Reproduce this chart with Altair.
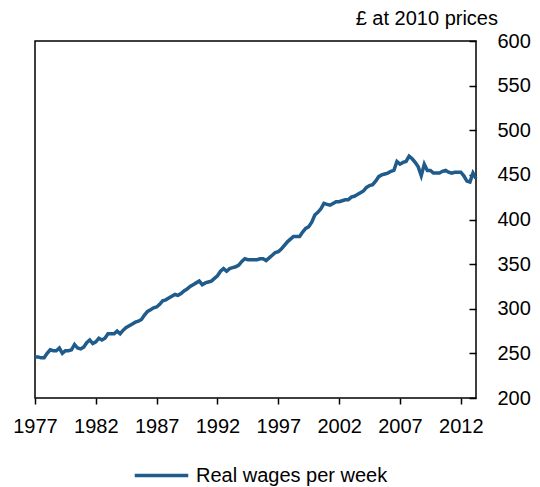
import altair as alt
import pandas as pd

start_year = 1977
# Quarterly real wages per week (£ at 2010 prices), 1977 Q1 onwards
wages = [
    246, 246, 245, 245, 250, 254, 253, 253, 256, 250, 253, 253,
    254, 260, 256, 255, 257, 262, 265, 261, 263, 267, 265, 267,
    272, 272, 272, 275, 272, 276, 279, 281, 283, 285, 286, 288,
    293, 297, 299, 301, 302, 305, 309, 310, 312, 314, 316, 315,
    317, 320, 322, 325, 327, 329, 331, 327, 329, 330, 331, 334,
    337, 342, 345, 342, 345, 346, 347, 349, 353, 356, 355, 355,
    355, 355, 356, 356, 354, 357, 360, 363, 364, 367, 371, 375,
    378, 381, 381, 381, 386, 390, 392, 397, 405, 408, 412, 418,
    417, 416, 418, 420, 420, 421, 422, 422, 425, 426, 428, 430,
    432, 436, 438, 439, 443, 448, 450, 451, 452, 454, 455, 465,
    462, 464, 465, 471, 468, 464, 459, 449, 462, 455, 455, 452,
    452, 452, 454, 455, 453, 452, 453, 453, 453, 449, 443, 442,
    452, 446,
]
series_name = "Real wages per week"
x_ticks = [1977, 1982, 1987, 1992, 1997, 2002, 2007, 2012]
y_ticks = [200, 250, 300, 350, 400, 450, 500, 550, 600]

years = [start_year + i / 4 for i in range(len(wages))]
df = pd.DataFrame({"year": years, "wage": wages, "series": [series_name] * len(wages)})

FONT = "Liberation Sans"
FS = 20
W, H = 441, 357
x_dom = [1977, start_year + (len(wages) - 1) / 4]

x_enc = alt.X(
    "year:Q",
    scale=alt.Scale(domain=x_dom, nice=False, zero=False),
    axis=alt.Axis(values=x_ticks, format="d", title=None, grid=False, domain=False,
                  tickColor="black", tickSize=6, tickWidth=1.5, labelFont=FONT,
                  labelFontSize=FS, labelColor="black", labelPadding=12, labelFlush=False),
)
y_scale = alt.Scale(domain=[200, 600], nice=False, zero=False)

line = alt.Chart(df).mark_line(strokeWidth=3.5).encode(
    x=x_enc,
    y=alt.Y("wage:Q", scale=y_scale,
            axis=alt.Axis(orient="right", values=y_ticks, ticks=False, tickSize=0, domain=False,
                          grid=False, title=None, labelFont=FONT, labelFontSize=FS,
                          labelColor="black", labelPadding=21)),
    color=alt.Color("series:N", scale=alt.Scale(range=["#1F5B8B"]),
                    legend=alt.Legend(orient="none", legendX=98, legendY=406, title=None,
                                      padding=0, labelLimit=0,
                                      symbolType="stroke", symbolSize=2862, symbolStrokeWidth=3.5,
                                      labelFont=FONT, labelFontSize=FS, labelColor="black",
                                      labelOffset=6)),
)

inner_ticks = alt.Chart(df).mark_line(opacity=0).encode(
    x=x_enc,
    y=alt.Y("wage:Q", scale=y_scale,
            axis=alt.Axis(orient="left", offset=-W, values=y_ticks, labels=False, domain=False,
                          grid=False, title=None, tickColor="black", tickSize=7, tickWidth=1.5)),
)

chart = alt.layer(line, inner_ticks).resolve_axis(y="independent").properties(
    width=W, height=H,
    title=alt.TitleParams("£ at 2010 prices", anchor="end", frame="group", dx=22, offset=2,
                          fontSize=FS, fontWeight="normal", font=FONT, color="black"),
    autosize=alt.AutoSizeParams(type="none"),
    padding={"left": 27, "top": 33, "right": 56, "bottom": 90},
).configure_view(stroke="black", strokeWidth=1.5)

chart.save("out.html", embed_options={"renderer": "svg", "actions": False})
